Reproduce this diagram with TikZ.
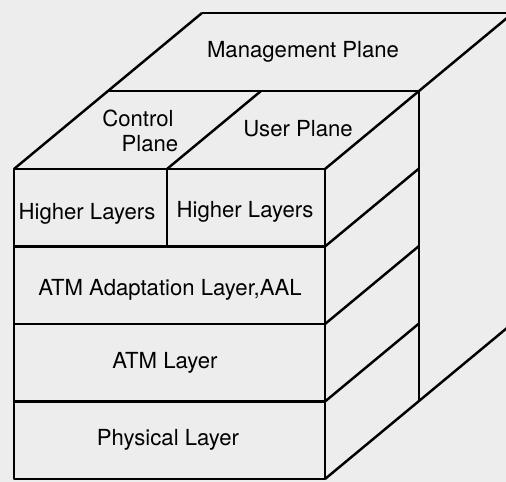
\documentclass[tikz,border=0pt]{standalone}
\usepackage{fontspec}
\setmainfont{TeX Gyre Heros}
\tikzset{
  layertext/.style={font=\fontsize{12.6}{14}\selectfont, inner sep=0pt},
}
\begin{document}
\begin{tikzpicture}[x=0.02cm, y=0.02cm, line width=1.4pt, line join=round]
  % paper background and frame of the picture
  \fill[black!7] (0,0) rectangle (506,482);
  \useasboundingbox (0,0) rectangle (506,482);
  \clip (0,0) rectangle (506,482);
  % front face of the stack
  \draw (14,3) rectangle (325,313);
  % layer boundaries on the front face
  \draw (14,235.5) -- (325,235.5);
  \draw (14,158) -- (325,158);
  \draw (14,80.5) -- (325,80.5);
  % split of the higher layers
  \draw (167,235.5) -- (167,313);
  % top: left edge and right edge running back to the management plane
  \draw (14,313) -- (202,469);
  \draw (325,313) -- (513,469);
  % back edge of the management plane
  \draw (202,469) -- (513,469);
  % front edge of the management plane
  \draw (108,391) -- (419,391);
  % split between control and user plane
  \draw (167,313) -- (261,391);
  % right side: back vertical edge
  \draw (419,391) -- (419,81);
  % right side: layer boundaries going back
  \draw (325,235.5) -- (419,313.5);
  \draw (325,158) -- (419,236);
  \draw (325,80.5) -- (419,158.5);
  % bottom edge running back
  \draw (325,3) -- (513,159);
  % labels
  \node[layertext] (mgmt) at (303,430) {Management Plane};
  \node[layertext] (ctrla) at (138,364) {Control};
  \node[layertext] (ctrlb) at (150,338) {Plane};
  \node[layertext] (user) at (298,353) {User Plane};
  \node[layertext] (hlleft) at (87,268) {Higher Layers};
  \node[layertext] (hlright) at (245,270) {Higher Layers};
  \node[layertext] (aal) at (170,192) {ATM Adaptation Layer,AAL};
  \node[layertext] (atm) at (165,119) {ATM Layer};
  \node[layertext] (phy) at (168,42) {Physical Layer};
\end{tikzpicture}
\end{document}
